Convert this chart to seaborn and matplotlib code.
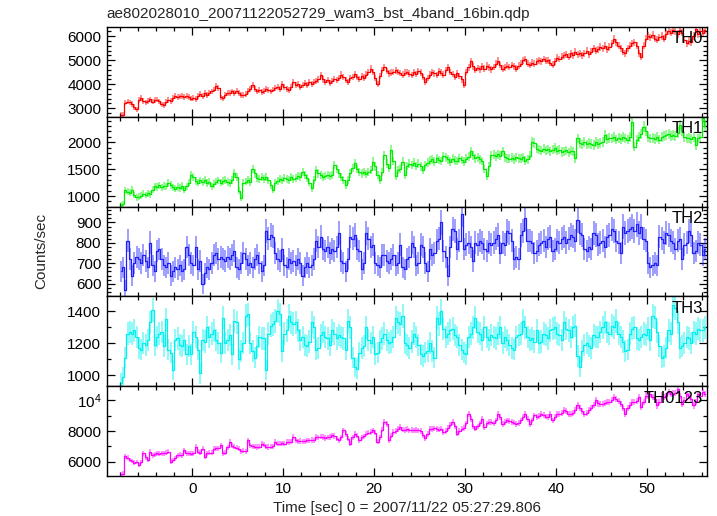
import numpy as np
import matplotlib
matplotlib.use('Agg')
import matplotlib.pyplot as plt
from matplotlib.ticker import MultipleLocator, FuncFormatter
import seaborn as sns

# time bins: 16 x 1/64 s = 0.25 s, first bin centre at -7.875 s
T_START = -7.875
BIN = 0.25

title = 'ae802028010_20071122052729_wam3_bst_4band_16bin.qdp'
xlabel = 'Time [sec] 0 = 2007/11/22 05:27:29.806'
ylabel = 'Counts/sec'

# counts/sec, four bins per second (rows start at -8 s, -7 s, ...)
th0 = [
    2720, 2740, 3230, 3280,
    3250, 3180, 3050, 2960,
    3340, 3420, 3300, 3250,
    3310, 3370, 3280, 3340,
    3360, 3290, 3160, 3140,
    3280, 3350, 3300, 3420,
    3500, 3470, 3490, 3510,
    3480, 3500, 3460, 3400,
    3440, 3380, 3520, 3580,
    3500, 3620, 3560, 3640,
    3700, 3780, 3920, 3850,
    3450, 3410, 3560, 3620,
    3650, 3700, 3640, 3710,
    3620, 3560, 3540, 3600,
    3720, 3800, 3950, 3800,
    3700, 3760, 3680, 3720,
    3800, 3760, 3700, 3780,
    3850, 3900, 3820, 4000,
    3880, 3800, 3760, 3900,
    4100, 3960, 4020, 3900,
    3950, 4060, 3980, 4100,
    4020, 4080, 4150, 4200,
    4380, 4200, 4100, 4160,
    4050, 4120, 4220, 4180,
    4250, 4400, 4300, 4180,
    4100, 4250, 4300, 4420,
    4300, 4220, 4350, 4280,
    4400, 4500, 4650, 4500,
    4250, 4000, 4350, 4600,
    4700, 4550, 4450, 4480,
    4520, 4580, 4500, 4460,
    4400, 4480, 4520, 4440,
    4380, 4500, 4420, 4560,
    4480, 4300, 4100, 4250,
    4400, 4500, 4450, 4380,
    4550, 4480, 4400, 4600,
    4700, 4500, 4420, 4300,
    4450, 4350, 4200, 3980,
    4500, 4700, 4950, 4750,
    4600, 4680, 4620, 4750,
    4650, 4780, 4700, 4620,
    4720, 4850, 4980, 4800,
    4650, 4700, 4780, 4720,
    4800, 4750, 4650, 4780,
    4850, 5000, 5050, 4850,
    4800, 4900, 4860, 4950,
    5000, 4950, 5050, 4980,
    5000, 4900, 4820, 4950,
    5100, 5050, 5150, 5200,
    5250, 5150, 5300, 5200,
    5350, 5250, 5300, 5200,
    5300, 5400, 5250, 5350,
    5500, 5400, 5450, 5550,
    5500, 5600, 5450, 5550,
    5700, 5900, 5750, 5600,
    5500, 5350, 5300, 5500,
    5600, 5700, 5750, 5600,
    5300, 5150, 5600, 5900,
    6000, 5950, 6050, 5900,
    5850, 5950, 6000, 5900,
    6100, 6200, 6150, 6250,
    6200, 6100, 6250, 6150,
    5850, 5700, 5800, 5750,
    6000, 6300, 6100, 6200,
    6150, 6250,
]

th1 = [
    840, 850, 1110, 1080,
    1060, 1120, 1020, 980,
    990, 1010, 1040, 1020,
    1050, 1030, 1120, 1180,
    1170, 1200, 1160, 1190,
    1180, 1240, 1210, 1160,
    1140, 1170, 1150, 1190,
    1120, 1180, 1250, 1390,
    1360, 1280, 1250, 1290,
    1260, 1300, 1240, 1270,
    1180, 1220, 1270, 1290,
    1250, 1280, 1300, 1260,
    1240, 1300, 1420, 1350,
    1100, 970, 1250, 1270,
    1300, 1260, 1500, 1420,
    1330, 1310, 1350, 1320,
    1360, 1290, 1200, 1120,
    1250, 1280, 1310, 1290,
    1340, 1320, 1300, 1350,
    1310, 1340, 1380, 1360,
    1440, 1400, 1330, 1250,
    1150, 1300, 1480, 1420,
    1390, 1360, 1380, 1400,
    1370, 1400, 1580, 1500,
    1420, 1360, 1300, 1210,
    1300, 1420, 1520, 1610,
    1500, 1440, 1420, 1450,
    1410, 1440, 1480, 1640,
    1550, 1400, 1300, 1450,
    1760, 1600, 1520, 1860,
    1650, 1370, 1480, 1500,
    1640, 1400, 1560, 1600,
    1580, 1620, 1560, 1600,
    1550, 1490, 1580, 1620,
    1660, 1680, 1640, 1700,
    1670, 1650, 1740, 1720,
    1680, 1640, 1690, 1660,
    1650, 1700, 1670, 1640,
    1690, 1730, 1830, 1760,
    1700, 1720, 1680, 1650,
    1500, 1370, 1550, 1760,
    1770, 1740, 1780, 1750,
    1830, 1720, 1700, 1690,
    1710, 1680, 1720, 1700,
    1690, 1720, 1660, 1680,
    1750, 2010, 1990, 1880,
    1860, 1840, 1880, 1850,
    1870, 1830, 1860, 1890,
    1840, 1860, 1820, 1830,
    1850, 1810, 1840, 1830,
    1700, 2070, 1980, 1960,
    2000, 1960, 1990, 1970,
    1950, 2000, 1970, 1990,
    2010, 2130, 2060, 2080,
    2070, 2090, 2050, 2080,
    2060, 2090, 2070, 2050,
    2100, 2380, 1920, 2050,
    2100, 2150, 2290, 2200,
    2100, 2070, 2080, 2060,
    2090, 2050, 2100, 2120,
    2130, 2150, 2110, 2140,
    2120, 2180, 2320, 2200,
    2100, 2070, 2080, 2060,
    2090, 1950, 2070, 2100,
    2440, 2300,
]

th2 = [
    660, 680, 570, 810,
    720, 640, 700, 730,
    720, 700, 740, 710,
    680, 800, 690, 660,
    760, 770, 720, 690,
    680, 700, 640, 660,
    680, 670, 690, 660,
    670, 780, 740, 700,
    690, 780, 670, 710,
    600, 650, 680, 670,
    700, 740, 750, 720,
    730, 720, 710, 730,
    720, 740, 760, 680,
    670, 700, 750, 720,
    690, 700, 680, 720,
    740, 700, 660, 690,
    860, 820, 840, 830,
    750, 720, 710, 770,
    690, 680, 720, 700,
    710, 690, 720, 700,
    640, 680, 700, 680,
    690, 720, 810, 780,
    830, 770, 760, 780,
    750, 770, 760, 780,
    850, 710, 700, 660,
    720, 830, 820, 840,
    770, 760, 670, 700,
    850, 820, 780, 790,
    700, 690, 680, 740,
    740, 710, 700, 720,
    740, 690, 700, 790,
    680, 670, 720, 730,
    800, 780, 690, 700,
    790, 780, 700, 660,
    770, 740, 750, 810,
    820, 900, 760, 730,
    640, 780, 870, 860,
    770, 810, 940, 770,
    790, 800, 780, 710,
    800, 790, 810, 800,
    770, 760, 800, 790,
    800, 820, 840, 750,
    800, 790, 860, 850,
    810, 720, 730, 720,
    840, 860, 920, 810,
    810, 800, 750, 760,
    790, 800, 810, 780,
    820, 830, 760, 770,
    810, 800, 820, 830,
    800, 820, 840, 830,
    810, 910, 850, 840,
    770, 760, 780, 770,
    850, 840, 790, 800,
    810, 780, 830, 840,
    870, 860, 810, 800,
    750, 880, 850, 860,
    870, 880, 860, 890,
    850, 880, 820, 810,
    700, 680, 690, 700,
    690, 830, 820, 800,
    850, 840, 810, 800,
    770, 810, 820, 720,
    790, 800, 860, 840,
    750, 760, 800, 790,
    740, 770,
]

th3 = [
    950, 990, 1110, 1260,
    1270, 1260, 1280, 1240,
    1170, 1160, 1200, 1190,
    1220, 1330, 1410, 1190,
    1240, 1260, 1270, 1180,
    1350, 1160, 1140, 1030,
    1220, 1230, 1190, 1180,
    1220, 1130, 1180, 1130,
    1270, 1240, 1160, 1010,
    1220, 1210, 1300, 1240,
    1260, 1280, 1220, 1200,
    1140, 1360, 1200, 1220,
    1250, 1130, 1340, 1330,
    1100, 1150, 1200, 1370,
    1380, 1200, 1150, 1110,
    1180, 1240, 1230, 1230,
    1030, 1260, 1310, 1320,
    1340, 1400, 1380, 1150,
    1260, 1280, 1370, 1330,
    1320, 1330, 1280, 1220,
    1240, 1190, 1180, 1210,
    1330, 1300, 1160, 1170,
    1250, 1270, 1240, 1230,
    1190, 1280, 1260, 1230,
    1250, 1240, 1230, 1160,
    1340, 1300, 1110, 1050,
    1040, 1140, 1170, 1180,
    1300, 1220, 1200, 1240,
    1130, 1140, 1210, 1230,
    1260, 1220, 1200, 1210,
    1240, 1360, 1330, 1320,
    1370, 1200, 1190, 1170,
    1210, 1260, 1240, 1190,
    1130, 1120, 1140, 1150,
    1200, 1150, 1110, 1360,
    1320, 1400, 1290, 1240,
    1260, 1280, 1290, 1250,
    1240, 1190, 1160, 1140,
    1130, 1240, 1260, 1300,
    1360, 1270, 1260, 1220,
    1300, 1240, 1220, 1250,
    1240, 1230, 1260, 1300,
    1200, 1240, 1220, 1190,
    1170, 1160, 1240, 1250,
    1260, 1340, 1300, 1240,
    1220, 1230, 1210, 1280,
    1200, 1210, 1260, 1250,
    1230, 1280, 1290, 1300,
    1260, 1250, 1220, 1330,
    1290, 1280, 1240, 1300,
    1310, 1120, 1050, 1150,
    1190, 1200, 1180, 1170,
    1250, 1240, 1240, 1270,
    1300, 1330, 1270, 1260,
    1310, 1300, 1340, 1260,
    1240, 1210, 1150, 1160,
    1260, 1290, 1300, 1230,
    1220, 1240, 1260, 1250,
    1290, 1220, 1370, 1360,
    1270, 1180, 1110, 1120,
    1170, 1280, 1260, 1440,
    1420, 1330, 1170, 1180,
    1200, 1240, 1230, 1200,
    1270, 1260, 1290, 1280,
    1280, 1300,
]

th0123 = [
    5200, 5220, 6370, 6250,
    6110, 6050, 5930, 5990,
    5790, 5990, 6540, 6300,
    6110, 6650, 6430, 6480,
    6540, 6520, 6560, 6540,
    6600, 6650, 6000, 6120,
    6220, 6430, 6450, 6420,
    6750, 6540, 6560, 6520,
    6540, 6970, 6650, 6600,
    6860, 6330, 6560, 6590,
    6600, 6840, 6870, 6890,
    7080, 6540, 6600, 6950,
    7300, 7050, 6970, 6920,
    6860, 6700, 6720, 6700,
    7400, 7080, 7000, 6980,
    6960, 6990, 7190, 7100,
    6980, 6960, 6990, 7000,
    7300, 7190, 7180, 7200,
    7190, 7300, 7290, 7310,
    7620, 7400, 7340, 7350,
    7330, 7340, 7400, 7390,
    7410, 7400, 7620, 7600,
    7640, 7610, 7550, 7600,
    7620, 7730, 7680, 7500,
    7400, 7600, 8050, 7800,
    7500, 7190, 7600, 7840,
    7700, 7400, 7600, 7650,
    7840, 7900, 7950, 8050,
    7900, 7300, 7600, 8100,
    8600, 8450, 7400, 7700,
    7950, 8000, 8150, 8270,
    8100, 8080, 8120, 8050,
    8060, 8040, 8080, 8050,
    8000, 7730, 7520, 7800,
    8160, 8120, 8180, 8150,
    8100, 8160, 7950, 8000,
    8200, 8400, 8600, 8300,
    7840, 8000, 8160, 8200,
    8500, 9130, 8800, 8300,
    8160, 8300, 8500, 8810,
    8270, 8500, 8600, 8590,
    8500, 8700, 9130, 8900,
    8480, 8600, 8700, 8680,
    8600, 8550, 8480, 8520,
    8700, 8900, 9130, 8800,
    8480, 8700, 9020, 8900,
    9000, 9130, 9050, 8950,
    8920, 9130, 8700, 8900,
    9130, 9100, 9200, 9350,
    9300, 9140, 9130, 9200,
    9400, 9670, 9500, 9300,
    9130, 9200, 9400, 9500,
    9700, 10000, 9800, 9780,
    9790, 9850, 9890, 9900,
    10000, 10210, 10100, 9950,
    9780, 9500, 9130, 9500,
    9700, 9890, 9900, 9950,
    10210, 9570, 9900, 10320,
    10300, 10430, 10200, 10100,
    9670, 9900, 10320, 10200,
    10300, 10540, 10400, 10450,
    10500, 10760, 10300, 9790,
    10000, 10430, 10300, 10100,
    9670, 9900, 10430, 10300,
    10540, 10400,
]

# name, values, colour, y range, major / minor tick step
panels = [
    ('TH0', th0, '#ff0000', (2650, 6390), 1000, 200),
    ('TH1', th1, '#00ee00', (807, 2474), 500, 100),
    ('TH2', th2, '#2020ff', (538, 978), 100, 20),
    ('TH3', th3, '#00f0f0', (930, 1494), 200, 100),
    ('TH0123', th0123, '#ff00ff', (5070, 10930), 2000, 1000),
]

sns.set_theme(style='ticks')
plt.rcParams['font.family'] = ['Liberation Sans', 'DejaVu Sans']
plt.rcParams['mathtext.default'] = 'regular'

fig, axes = plt.subplots(5, 1, figsize=(7.17, 5.16), dpi=100, sharex=True)
fig.subplots_adjust(left=0.149, right=0.986, top=0.948, bottom=0.0775, hspace=0)


def fmt_counts(v, pos):
    if v == 10000:
        return '10$^4$'
    return f'{v:.0f}'


for ax, (name, vals, color, ylim, major, minor) in zip(axes, panels):
    v = np.asarray(vals, dtype=float)
    t = T_START + BIN * np.arange(len(v))
    err = np.sqrt(v * BIN) / BIN  # poisson error of each bin
    ax.errorbar(t, v, yerr=err, fmt='none', ecolor=color, alpha=0.55,
                elinewidth=1.1, capsize=0)
    sns.lineplot(x=t, y=v, ax=ax, color=color, lw=0.9,
                 drawstyle='steps-mid', estimator=None, sort=False)
    ax.set_ylim(*ylim)
    ax.set_xlim(-9.4, 56.6)
    ax.set_ylabel('')
    ax.yaxis.set_major_locator(MultipleLocator(major))
    ax.yaxis.set_minor_locator(MultipleLocator(minor))
    ax.yaxis.set_major_formatter(FuncFormatter(fmt_counts))
    ax.xaxis.set_major_locator(MultipleLocator(10))
    ax.xaxis.set_minor_locator(MultipleLocator(2))
    ax.tick_params(which='both', direction='in', top=True, right=True,
                   colors='black', labelsize=11, width=0.9, pad=4)
    ax.tick_params(which='major', length=6)
    ax.tick_params(which='minor', length=3)
    for s in ax.spines.values():
        s.set_linewidth(1.0)
        s.set_color('black')
    ax.text(0.994, 0.95, name, transform=ax.transAxes, ha='right', va='top',
            fontsize=12, color='black', zorder=5)

axes[-1].set_xlabel(xlabel, fontsize=11, labelpad=4)
fig.text(0.058, 0.513, ylabel, rotation=90, ha='center', va='center', fontsize=11)
fig.text(0.149, 0.972, title, ha='left', va='center', fontsize=11)

fig.savefig('out.png', dpi=100)
